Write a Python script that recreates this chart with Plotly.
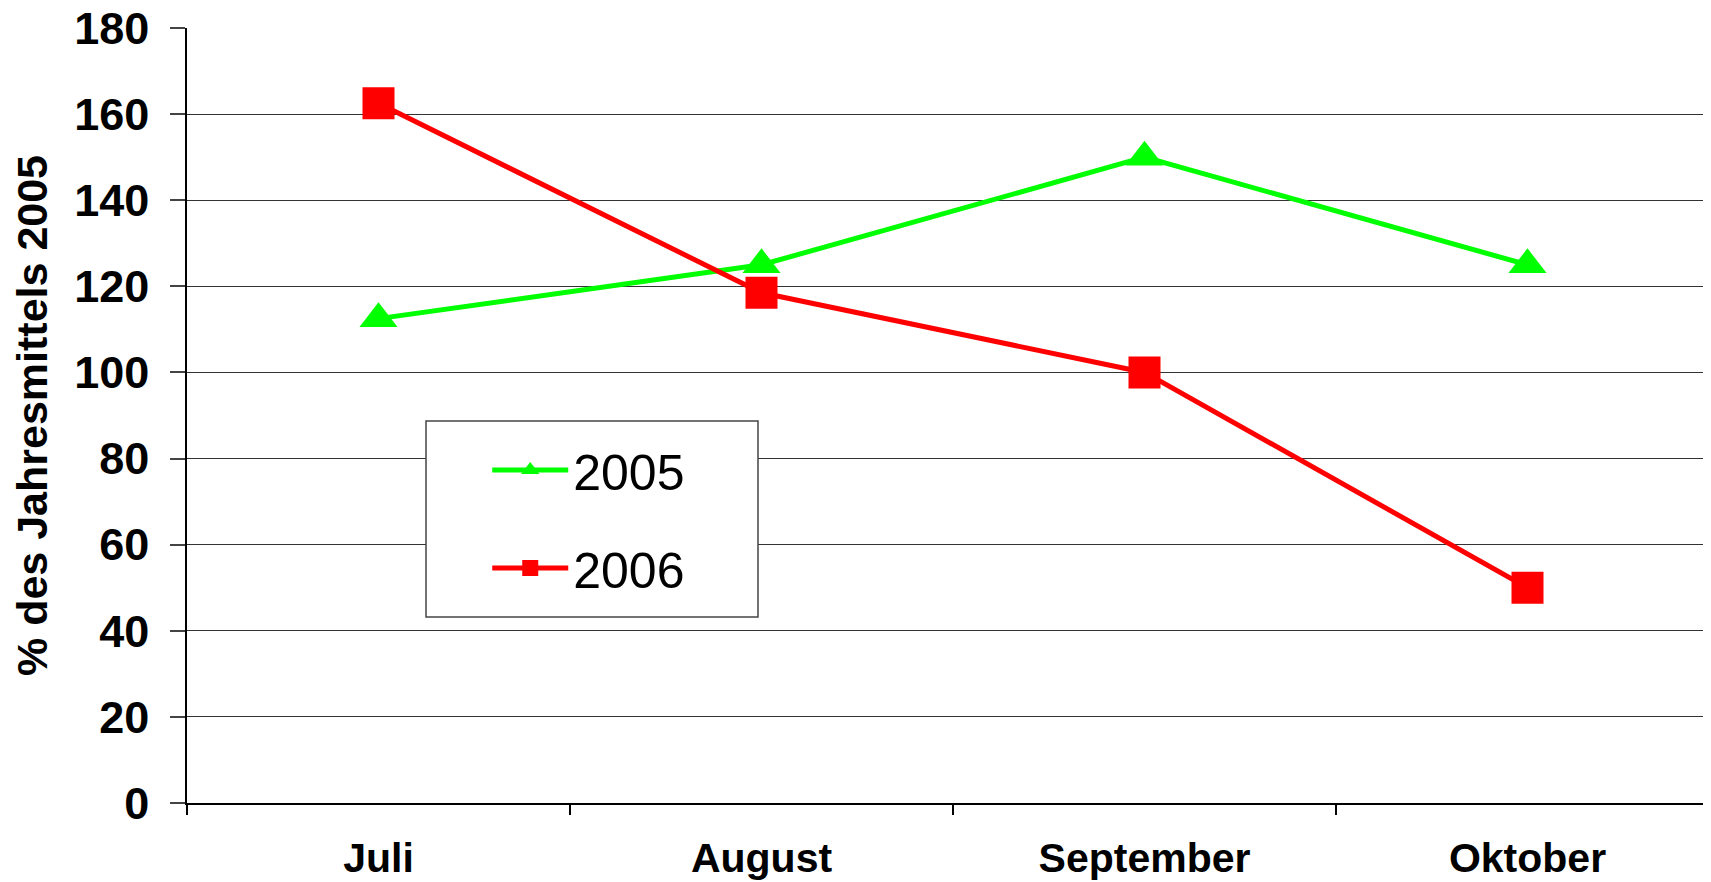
import plotly.graph_objects as go

months = ["Juli", "August", "September", "Oktober"]
values_2005 = [112.5, 125, 150, 125]
values_2006 = [162.5, 118.5, 100, 50]
y_ticks = [0, 20, 40, 60, 80, 100, 120, 140, 160, 180]

FONT = "Liberation Sans, Arial, sans-serif"

# page body has an 8px margin; compensate so the plot lands where the reference has it
PLOT_L, PLOT_T, PLOT_W, PLOT_H = 179, 20, 1524, 775
FIG_W, FIG_H = 1703, 874

fig = go.Figure()
fig.add_trace(go.Scatter(
    x=months, y=values_2005, name="2005", mode="lines+markers",
    line=dict(color="#00FF00", width=5),
    marker=dict(symbol="triangle-up", size=33, color="#00FF00"),
    legendgroup="a",
))
fig.add_trace(go.Scatter(
    x=months, y=values_2006, name="2006", mode="lines+markers",
    line=dict(color="#FF0000", width=5),
    marker=dict(symbol="square", size=32, color="#FF0000"),
    legendgroup="b",
))

def px_x(v):
    return (v - 187) / PLOT_W

def px_y(v):
    return (803 - v) / PLOT_H

fig.update_layout(
    width=FIG_W, height=FIG_H,
    margin=dict(l=PLOT_L, r=FIG_W - PLOT_L - PLOT_W, t=PLOT_T, b=FIG_H - PLOT_T - PLOT_H),
    paper_bgcolor="white", plot_bgcolor="white",
    font=dict(family=FONT, color="black"),
    showlegend=True,
    legend=dict(
        x=0.197, y=0.480, xanchor="left", yanchor="top",
        bgcolor="rgba(0,0,0,0)", borderwidth=0,
        font=dict(size=50, family=FONT, color="black"),
        traceorder="grouped", tracegroupgap=30,
        itemwidth=76,
    ),
    shapes=[dict(
        type="rect", xref="paper", yref="paper",
        x0=px_x(426), x1=px_x(758), y0=px_y(617), y1=px_y(421),
        line=dict(color="#444", width=1.5), fillcolor="white", layer="above",
    )],
)

fig.update_xaxes(
    type="category", range=[-0.5, -0.5 + PLOT_W / 383],
    showline=True, linecolor="black", linewidth=2,
    showgrid=False, ticks="outside", tickson="boundaries",
    ticklen=10, tickcolor="black", tickwidth=1.5,
    tickfont=dict(size=41, family=FONT, color="black", weight="bold"),
    ticklabelstandoff=18,
)
fig.update_yaxes(
    range=[0, 180], tickvals=y_ticks,
    showline=True, linecolor="black", linewidth=1.5,
    showgrid=True, gridcolor="#333", gridwidth=1.2,
    ticks="outside", ticklen=15, tickcolor="#444", tickwidth=1.5,
    tickfont=dict(size=45, family=FONT, color="black", weight="bold"),
    ticklabelstandoff=12, ticklabeloverflow="allow",
    title=dict(text="% des Jahresmittels 2005", standoff=15,
               font=dict(size=43, family=FONT, color="black", weight="bold")),
    automargin=False,
)

fig.write_html("out.html")
